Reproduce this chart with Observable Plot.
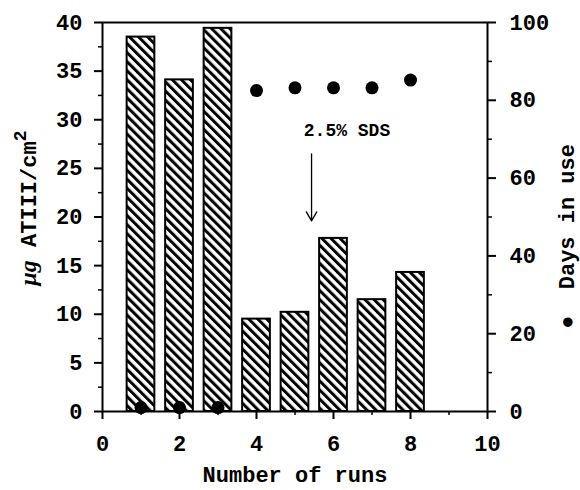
<!DOCTYPE html>
<html><head><meta charset="utf-8">
<script src="https://cdn.jsdelivr.net/npm/d3@7"></script>
<script src="https://cdn.jsdelivr.net/npm/@observablehq/plot@0.6"></script>
<style>body{margin:0;background:#fff}</style>
</head><body><div id="chart"></div>
<script>
const runs = [1, 2, 3, 4, 5, 6, 7, 8];
const atiii = [38.5, 34.1, 39.4, 9.5, 10.2, 17.8, 11.5, 14.3];
const daysInUse = [1, 1, 1, 82.5, 83.2, 83.2, 83.2, 85.2];
const xTicks = [0, 2, 4, 6, 8, 10];
const xMinor = [1, 3, 5, 7, 9];
const yTicks = [0, 5, 10, 15, 20, 25, 30, 35, 40];
const yMinor = [2.5, 7.5, 12.5, 17.5, 22.5, 27.5, 32.5, 37.5];
const dayTicks = [0, 20, 40, 60, 80, 100];
const dayMinor = [10, 30, 50, 70, 90];
const noteText = ["2.5% SDS"];
const noteX = [6.35], noteY = [28.9];
const arrowX = [5.43], arrowFrom = [26.5], arrowTo = [19.6];

const dayScale = 40 / 100; // right axis (0–100 days) onto left axis (0–40 µg)
const bars = runs.map((r, i) => ({run: r, v: atiii[i]}));
const dots = runs.map((r, i) => ({run: r, d: daysInUse[i]}));
const notes = noteText.map((t, i) => ({t, x: noteX[i], y: noteY[i], ax: arrowX[i], a1: arrowFrom[i], a2: arrowTo[i]}));

const font = "'Liberation Mono', 'DejaVu Sans Mono', monospace";
const chart = Plot.plot({
  width: 580, height: 490,
  marginLeft: 102, marginRight: 93, marginTop: 22, marginBottom: 79,
  style: {fontFamily: font, fontWeight: "bold", fontSize: "22px", color: "#000", background: "#fff"},
  x: {domain: [0, 10]},
  y: {domain: [0, 40]},
  marks: [
    Plot.rectY(bars, {x1: d => d.run - 0.36, x2: d => d.run + 0.36, y: "v", fill: "url(#hatch)", stroke: "#000", strokeWidth: 2}),
    Plot.dot(dots, {x: "run", y: d => d.d * dayScale, r: 6.5, fill: "#000", stroke: "none"}),
    Plot.frame({stroke: "#000", strokeWidth: 2}),
    Plot.axisX({ticks: xTicks, tickSize: 8, tickPadding: 16, strokeWidth: 2, label: null, tickFormat: d => d}),
    Plot.axisX({ticks: xMinor, tickSize: 4, strokeWidth: 1.5, label: null, tickFormat: () => ""}),
    Plot.axisY({ticks: yTicks, tickSize: 8, tickPadding: 12, strokeWidth: 2, label: null, tickFormat: d => d}),
    Plot.axisY({ticks: yMinor, tickSize: 4, strokeWidth: 1.5, label: null, tickFormat: () => ""}),
    Plot.axisY({anchor: "right", ticks: dayTicks.map(d => d * dayScale), tickSize: 8, tickPadding: 14, strokeWidth: 2, label: null, tickFormat: d => Math.round(d / dayScale)}),
    Plot.axisY({anchor: "right", ticks: dayMinor.map(d => d * dayScale), tickSize: 4, strokeWidth: 1.5, label: null, tickFormat: () => ""}),
    Plot.text(notes, {x: "x", y: "y", text: "t", fontSize: 18, fontWeight: "bold"}),
    Plot.arrow(notes, {x1: "ax", y1: "a1", x2: "ax", y2: "a2", stroke: "#000", strokeWidth: 1.3, headLength: 12}),
    Plot.text(["Number of runs"], {x: 5, frameAnchor: "bottom", dy: 70, fontSize: 22, fontWeight: "bold", letterSpacing: 1}),
    Plot.text(["\u25CF  Days in use"], {frameAnchor: "right", y: 18, dx: 79, rotate: -90, textAnchor: "middle", fontSize: 22, fontWeight: "bold"})
  ]
});
const svg = d3.select(chart);
const defs = svg.insert("defs", ":first-child");
const pat = defs.append("pattern").attr("id", "hatch").attr("patternUnits", "userSpaceOnUse")
  .attr("width", 6.4).attr("height", 10).attr("patternTransform", "rotate(-45)");
pat.append("rect").attr("width", 6.4).attr("height", 10).attr("fill", "#fff");
pat.append("line").attr("x1", 1.5).attr("y1", 0).attr("x2", 1.5).attr("y2", 10).attr("stroke", "#000").attr("stroke-width", 3);

const lab = svg.append("text").attr("transform", "translate(30,208) rotate(-90)")
  .attr("text-anchor", "middle").attr("dominant-baseline", "middle")
  .style("font-family", font).style("font-weight", "bold").style("font-size", "22px");
lab.append("tspan").text("\u03BCg").style("font-family", "'Liberation Serif', serif").style("font-style", "italic").style("font-size", "24px");
lab.append("tspan").text(" ATIII/cm");
lab.append("tspan").text("2").attr("dy", -9).style("font-size", "18px");
document.getElementById("chart").append(chart);
</script>
</body></html>
